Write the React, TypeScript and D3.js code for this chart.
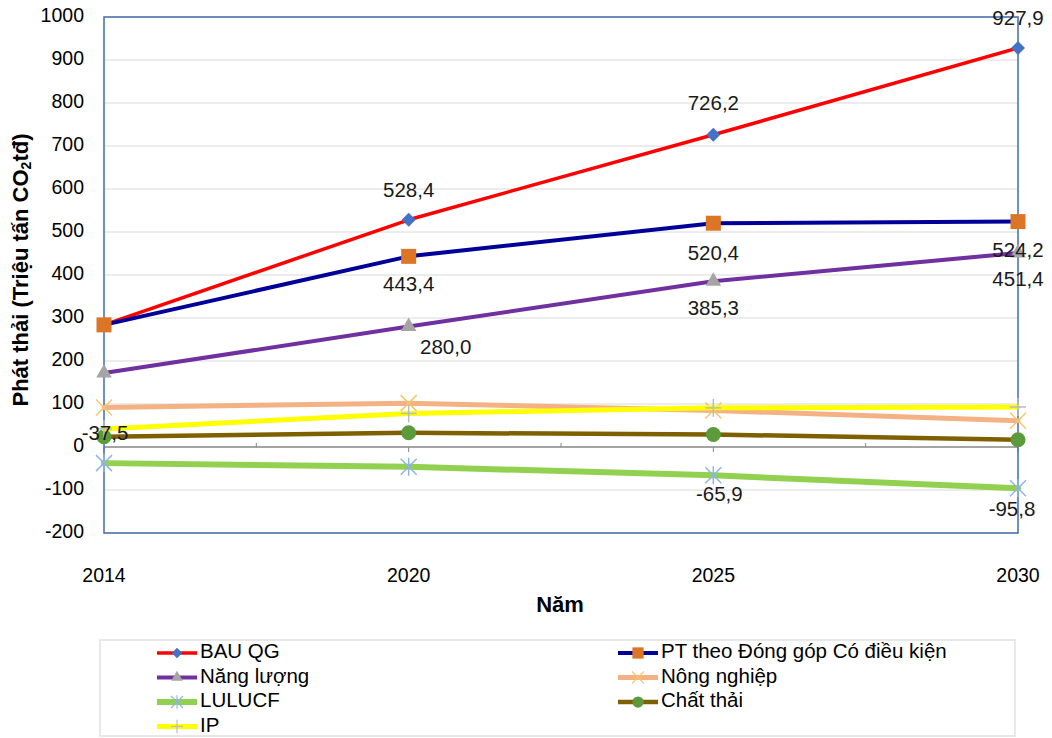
import React from "react";
import * as d3 from "d3";

// Categories and series (Triệu tấn CO2tđ)
const years = ["2014", "2020", "2025", "2030"];
const bauQG = [284, 528.4, 726.2, 927.9];
const ptConditional = [284, 443.4, 520.4, 524.2];
const energy = [172, 280.0, 385.3, 451.4];
const agriculture = [92, 102, 85, 61];
const lulucf = [-37.5, -46, -65.9, -95.8];
const waste = [24, 33, 29, 17];
const ip = [42, 78, 91, 93];
const yTicks = [-200, -100, 0, 100, 200, 300, 400, 500, 600, 700, 800, 900, 1000];

type Marker = "diamond" | "square" | "triangle" | "cross" | "star" | "circle" | "plus";

const series: { name: string; values: number[]; color: string; width: number; marker: Marker; markerColor: string }[] = [
  { name: "BAU QG", values: bauQG, color: "#ff0000", width: 3.5, marker: "diamond", markerColor: "#4472c4" },
  { name: "PT theo Đóng góp Có điều kiện", values: ptConditional, color: "#000099", width: 4, marker: "square", markerColor: "#dc7626" },
  { name: "Năng lượng", values: energy, color: "#7030a0", width: 4, marker: "triangle", markerColor: "#a5a5a5" },
  { name: "Nông nghiệp", values: agriculture, color: "#f4b183", width: 5, marker: "cross", markerColor: "#f7c46c" },
  { name: "LULUCF", values: lulucf, color: "#92d050", width: 6, marker: "star", markerColor: "#8eb4e3" },
  { name: "Chất thải", values: waste, color: "#7f6000", width: 4.5, marker: "circle", markerColor: "#5b9b3c" },
  { name: "IP", values: ip, color: "#ffff00", width: 5, marker: "plus", markerColor: "#b4bcc8" },
];

// Data labels: series index, point index, offset from the point
const dataLabels = [
  { s: 0, i: 1, dx: 0, dy: -28 },
  { s: 0, i: 2, dx: 0, dy: -30 },
  { s: 0, i: 3, dx: 0, dy: -28 },
  { s: 1, i: 1, dx: 0, dy: 29 },
  { s: 1, i: 2, dx: 0, dy: 31 },
  { s: 1, i: 3, dx: 0, dy: 30 },
  { s: 2, i: 1, dx: 37, dy: 22 },
  { s: 2, i: 2, dx: 0, dy: 28 },
  { s: 2, i: 3, dx: 0, dy: 28 },
  { s: 4, i: 0, dx: 1, dy: -29 },
  { s: 4, i: 2, dx: 6, dy: 20 },
  { s: 4, i: 3, dx: -6, dy: 22 },
];

const FONT = "'Liberation Sans', Arial, sans-serif";
const fmt = (v: number) => d3.format(".1f")(v).replace(".", ",").replace("−", "-");

function MarkerShape({ type, color, x, y, k = 1 }: { type: Marker; color: string; x: number; y: number; k?: number }) {
  const t = `translate(${x},${y}) scale(${k})`;
  switch (type) {
    case "diamond":
      return <path transform={t} d="M0,-7L7,0L0,7L-7,0Z" fill={color} />;
    case "square":
      return <rect transform={t} x={-7.5} y={-7.5} width={15} height={15} fill={color} />;
    case "triangle":
      return <path transform={t} d={d3.symbol(d3.symbolTriangle, 105)()!} fill={color} />;
    case "circle":
      return <circle transform={t} r={7.5} fill={color} />;
    case "cross":
      return (
        <g transform={t} stroke={color} strokeWidth={1.5}>
          <line x1={-8} y1={-8} x2={8} y2={8} />
          <line x1={-8} y1={8} x2={8} y2={-8} />
        </g>
      );
    case "star":
      return (
        <g transform={t} stroke={color} strokeWidth={1.5}>
          <line x1={-8} y1={-8} x2={8} y2={8} />
          <line x1={-8} y1={8} x2={8} y2={-8} />
          <line x1={0} y1={-9} x2={0} y2={9} />
        </g>
      );
    case "plus":
      return (
        <g transform={t} stroke={color} strokeWidth={1.5}>
          <line x1={-8} y1={0} x2={8} y2={0} />
          <line x1={0} y1={-9} x2={0} y2={9} />
        </g>
      );
  }
}

export default function App() {
  const W = 1052;
  const H = 738;
  const left = 104;
  const right = 1018;
  const top = 17;
  const bottom = 533;

  const x = d3.scalePoint<string>().domain(years).range([left, right]);
  const y = d3.scaleLinear().domain([-200, 1000]).range([bottom, top]);
  const line = d3
    .line<number>()
    .x((_, i) => x(years[i])!)
    .y((d) => y(d));

  const y0 = y(0);
  const step = x.step();
  const minorTicks = years.slice(0, -1).map((yr) => x(yr)! + step / 2);

  const legendRows = [
    [0, 1],
    [2, 3],
    [4, 5],
    [6],
  ];
  const legendCols = [157, 618];
  const legendY0 = 653;
  const legendDy = 24.5;

  return (
    <svg width={W} height={H} style={{ position: "absolute", left: 0, top: 0, background: "#fff" }} fontFamily={FONT}>
      <rect width={W} height={H} fill="#fff" />

      {/* gridlines */}
      {yTicks.map((t) =>
        t === 0 ? null : (
          <line key={t} x1={left} x2={right} y1={y(t)} y2={y(t)} stroke="#d9d9d9" strokeWidth={1.2} />
        )
      )}

      {/* zero axis */}
      <line x1={left} x2={right} y1={y0} y2={y0} stroke="#868686" strokeWidth={1.5} />
      {minorTicks.map((mx, i) => (
        <line key={i} x1={mx} x2={mx} y1={y0 - 4} y2={y0} stroke="#868686" strokeWidth={1} />
      ))}
      {years.map((yr) => (
        <line key={yr} x1={x(yr)} x2={x(yr)} y1={y0} y2={y0 + 5} stroke="#868686" strokeWidth={1} />
      ))}

      {/* plot frame */}
      <rect x={left} y={top} width={right - left} height={bottom - top} fill="none" stroke="#4f74b3" strokeWidth={1.6} />

      {/* y tick labels */}
      {yTicks.map((t) => (
        <text key={t} x={84} y={y(t)} textAnchor="end" dominantBaseline="middle" fontSize={19.5} fill="#000">
          {t}
        </text>
      ))}

      {/* x tick labels */}
      {years.map((yr) => (
        <text key={yr} x={x(yr)} y={577} textAnchor="middle" dominantBaseline="middle" fontSize={19.5} fill="#000">
          {yr}
        </text>
      ))}

      {/* axis titles */}
      <text x={560} y={606} textAnchor="middle" dominantBaseline="middle" fontSize={22} fontWeight="bold" fill="#000">
        Năm
      </text>
      <text
        transform={`translate(22,270) rotate(-90)`}
        textAnchor="middle"
        dominantBaseline="middle"
        fontSize={22}
        fontWeight="bold"
        fill="#000"
      >
        Phát thải (Triệu tấn CO<tspan fontSize={14} dy={5}>2</tspan>
        <tspan dy={-5}>tđ)</tspan>
      </text>

      {/* series */}
      {series.map((s) => (
        <g key={s.name}>
          <path d={line(s.values)!} fill="none" stroke={s.color} strokeWidth={s.width} strokeLinejoin="round" strokeLinecap="round" />
          {s.values.map((v, i) => (
            <MarkerShape key={i} type={s.marker} color={s.markerColor} x={x(years[i])!} y={y(v)} />
          ))}
        </g>
      ))}

      {/* data labels */}
      {dataLabels.map((l, k) => {
        const v = series[l.s].values[l.i];
        return (
          <text
            key={k}
            x={x(years[l.i])! + l.dx}
            y={y(v) + l.dy}
            textAnchor="middle"
            dominantBaseline="middle"
            fontSize={20.5}
            fill="#1a1a1a"
          >
            {fmt(v)}
          </text>
        );
      })}

      {/* legend */}
      <rect x={100} y={640} width={915} height={96} fill="#fff" stroke="#d9d9d9" strokeWidth={1.2} />
      {legendRows.map((row, r) =>
        row.map((si, c) => {
          const s = series[si];
          const lx = legendCols[c];
          const ly = legendY0 + r * legendDy;
          return (
            <g key={si}>
              <line x1={lx} x2={lx + 40} y1={ly} y2={ly} stroke={s.color} strokeWidth={s.width} />
              <MarkerShape type={s.marker} color={s.markerColor} x={lx + 20} y={ly} k={0.75} />
              <text x={lx + 43} y={ly} dominantBaseline="middle" fontSize={20.5} fill="#000">
                {s.name}
              </text>
            </g>
          );
        })
      )}
    </svg>
  );
}
